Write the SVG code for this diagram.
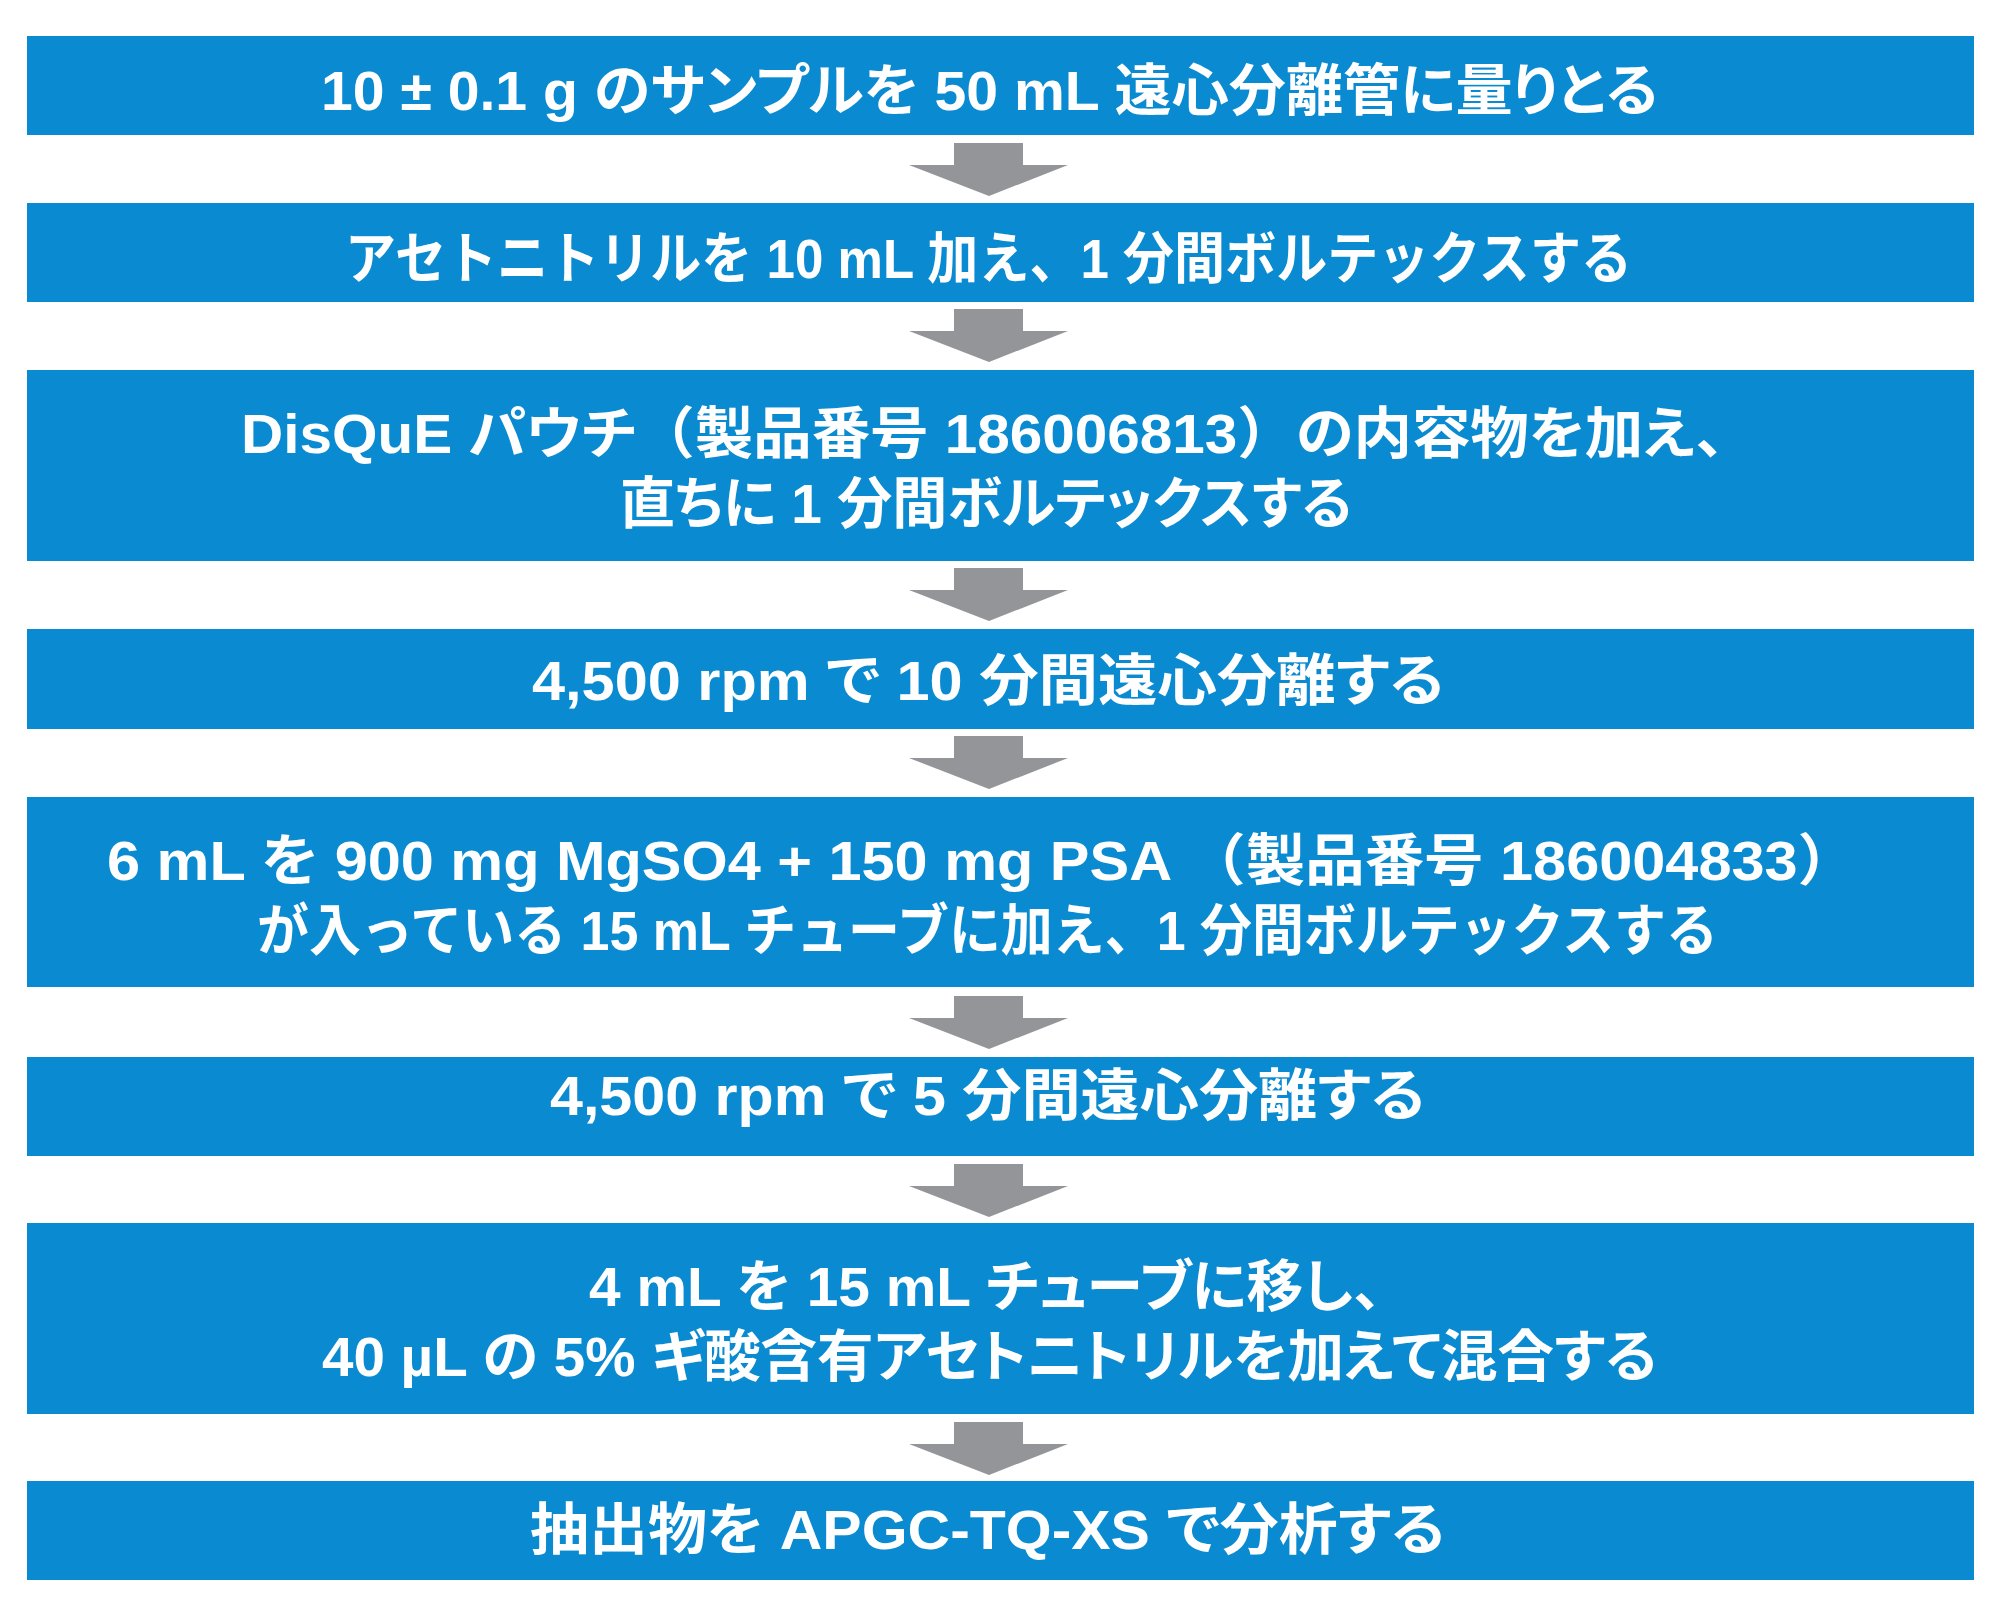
<svg xmlns="http://www.w3.org/2000/svg" width="2000" height="1617" viewBox="0 0 2000 1617">
<defs>
<style>
.box{fill:#0a8ad0}
.arrow{fill:#939598}
.t{font-family:"Liberation Sans","Noto Sans CJK JP",sans-serif;font-weight:bold;font-size:56px;fill:#ffffff;font-feature-settings:"palt"}
.fw{font-feature-settings:normal}
</style>
<polygon id="arr" class="arrow" points="954,0 1023,0 1023,22 1068,22 989,53 909,22 954,22"/>
</defs>
<rect x="0" y="0" width="2000" height="1617" fill="#ffffff"/>
<g id="connectors">
<use href="#arr" transform="translate(0,143)"/>
<use href="#arr" transform="translate(0,309)"/>
<use href="#arr" transform="translate(0,568)"/>
<use href="#arr" transform="translate(0,736)"/>
<use href="#arr" transform="translate(0,996)"/>
<use href="#arr" transform="translate(0,1164)"/>
<use href="#arr" transform="translate(0,1422)"/>
</g>
<g id="step1">
<rect class="box" x="27" y="36" width="1947" height="99"/>
<text class="t" x="321" y="110" textLength="1337" lengthAdjust="spacingAndGlyphs">10 ± 0.1 g のサンプルを 50 mL 遠心分離管に量りとる</text>
</g>
<g id="step2">
<rect class="box" x="27" y="203" width="1947" height="99"/>
<text class="t fw" x="345" y="278" textLength="1287" lengthAdjust="spacingAndGlyphs">アセトニトリルを 10 mL 加え、1 分間ボルテックスする</text>
</g>
<g id="step3">
<rect class="box" x="27" y="370" width="1947" height="191"/>
<text class="t" x="241" y="453" textLength="1513" lengthAdjust="spacingAndGlyphs">DisQuE パウチ<tspan class="fw">（</tspan>製品番号 186006813<tspan class="fw">）</tspan>の内容物を加え<tspan class="fw">、</tspan></text>
<text class="t" x="620" y="523" textLength="732" lengthAdjust="spacingAndGlyphs">直ちに 1 分間ボルテックスする</text>
</g>
<g id="step4">
<rect class="box" x="27" y="629" width="1947" height="100"/>
<text class="t" x="532" y="700" textLength="912" lengthAdjust="spacingAndGlyphs">4,500 rpm で 10 分間遠心分離する</text>
</g>
<g id="step5">
<rect class="box" x="27" y="797" width="1947" height="190"/>
<text class="t" x="107" y="880" textLength="1750" lengthAdjust="spacingAndGlyphs">6 mL を 900 mg MgSO4 + 150 mg PSA <tspan class="fw">（</tspan>製品番号 186004833<tspan class="fw">）</tspan></text>
<text class="t fw" x="257" y="950" textLength="1461" lengthAdjust="spacingAndGlyphs">が入っている 15 mL チューブに加え、1 分間ボルテックスする</text>
</g>
<g id="step6">
<rect class="box" x="27" y="1057" width="1947" height="99"/>
<text class="t" x="550" y="1115" textLength="875" lengthAdjust="spacingAndGlyphs">4,500 rpm で 5 分間遠心分離する</text>
</g>
<g id="step7">
<rect class="box" x="27" y="1223" width="1947" height="191"/>
<text class="t" x="589" y="1306" textLength="821" lengthAdjust="spacingAndGlyphs">4 mL を 15 mL チューブに移し<tspan class="fw">、</tspan></text>
<text class="t" x="322" y="1376" textLength="1335" lengthAdjust="spacingAndGlyphs">40 µL の 5% ギ酸含有アセトニトリルを加えて混合する</text>
</g>
<g id="step8">
<rect class="box" x="27" y="1481" width="1947" height="99"/>
<text class="t" x="530" y="1549" textLength="915" lengthAdjust="spacingAndGlyphs">抽出物を APGC-TQ-XS で分析する</text>
</g>
</svg>
